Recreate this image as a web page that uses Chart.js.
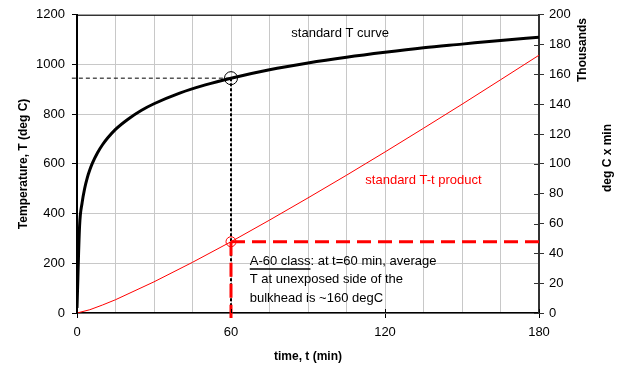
<!DOCTYPE html>
<html>
<head>
<meta charset="utf-8">
<script src="https://cdn.jsdelivr.net/npm/chart.js@4.4.1/dist/chart.umd.min.js"></script>
<style>
  html, body { margin: 0; padding: 0; background: #fff; }
  #wrap { width: 624px; height: 367px; }
</style>
</head>
<body>
<div id="wrap"><canvas id="fireChart" width="624" height="367"></canvas></div>
<script>
// standard T curve (deg C) vs time (min)
const curveTime = [0, 1, 2, 3, 4, 5, 6, 8, 10, 12, 15, 20, 25, 30, 40, 50, 60, 75, 90, 105, 120, 135, 150, 165, 180];
const curveTemp = [20, 349, 444, 502, 544, 576, 603, 645, 678, 705, 739, 781, 815, 842, 885, 918, 945, 979, 1006, 1029, 1049, 1067, 1082, 1097, 1110];

// standard T-t product (thousands of deg C x min)
const productTime = [0, 5, 10, 15, 30, 45, 60, 75, 90, 105, 120, 135, 150, 165, 180];
const productValue = [0, 2.2, 5.4, 8.9, 20.9, 34.0, 47.8, 62.3, 77.2, 92.4, 108.0, 123.9, 140.0, 156.4, 172.9];

// A-60 reading points
const markTime = 60;
const markTemp = 945;
const markProduct = 47.8;

const xTicks = [0, 60, 120, 180];
const FONT = "'Liberation Sans', Arial, sans-serif";

const toPoints = (xs, ys) => xs.map((x, i) => ({ x, y: ys[i] }));

const overlay = {
  id: 'overlay',
  afterDraw(chart) {
    const { ctx, chartArea: a, scales } = chart;
    const x = scales.x, y = scales.y, y1 = scales.y1;
    ctx.save();

    // top frame line
    ctx.strokeStyle = '#000';
    ctx.lineWidth = 1;
    ctx.beginPath();
    ctx.moveTo(a.left, a.top + 0.5);
    ctx.lineTo(a.right, a.top + 0.5);
    ctx.stroke();

    // inner ticks on right axis
    ctx.strokeStyle = '#333';
    ctx.beginPath();
    for (let v = 0; v <= 200; v += 20) {
      const py = Math.round(y1.getPixelForValue(v)) + 0.5;
      ctx.moveTo(a.right - 5, py);
      ctx.lineTo(a.right, py);
    }
    ctx.stroke();

    // inner ticks on x axis
    ctx.strokeStyle = '#000';
    ctx.beginPath();
    xTicks.forEach(v => {
      const px = Math.round(x.getPixelForValue(v)) + 0.5;
      ctx.moveTo(px, a.bottom - 4);
      ctx.lineTo(px, a.bottom);
    });
    ctx.stroke();

    // labels
    ctx.font = '13px ' + FONT;
    ctx.textBaseline = 'middle';
    ctx.textAlign = 'center';
    ctx.fillStyle = '#000';
    ctx.fillText('standard T curve', x.getPixelForValue(102.5), y.getPixelForValue(1124));
    ctx.fillStyle = '#ff0000';
    ctx.fillText('standard T-t product', x.getPixelForValue(135), y1.getPixelForValue(88.7));

    ctx.fillStyle = '#000';
    ctx.textAlign = 'left';
    const tx = x.getPixelForValue(67.3);
    const lines = ['A-60 class: at t=60 min, average', 'T at unexposed side of the', 'bulkhead is ~160 degC'];
    lines.forEach((s, i) => ctx.fillText(s, tx, 261 + i * 18.5));
    const uw = ctx.measureText('A-60 class').width;
    ctx.lineWidth = 1.5;
    ctx.beginPath();
    ctx.moveTo(tx, 269);
    ctx.lineTo(tx + uw, 269);
    ctx.stroke();

    // right axis titles
    ctx.font = 'bold 12px ' + FONT;
    ctx.textAlign = 'center';
    [['Thousands', 583, 50], ['deg C x min', 608, 158]].forEach(([s, cx, cy]) => {
      ctx.save();
      ctx.translate(cx, cy);
      ctx.rotate(-Math.PI / 2);
      ctx.fillText(s, 0, 0);
      ctx.restore();
    });

    ctx.restore();
  }
};

new Chart(document.getElementById('fireChart'), {
  type: 'scatter',
  data: {
    datasets: [
      {
        label: 'mark T',
        data: [{ x: markTime, y: markTemp }],
        yAxisID: 'y',
        pointRadius: 6.5,
        pointBackgroundColor: 'rgba(0,0,0,0)',
        pointBorderColor: '#000',
        pointBorderWidth: 1,
        showLine: false
      },
      {
        label: 'mark product',
        data: [{ x: markTime, y: markProduct }],
        yAxisID: 'y1',
        pointRadius: 5,
        pointBackgroundColor: 'rgba(0,0,0,0)',
        pointBorderColor: '#ff0000',
        pointBorderWidth: 1,
        showLine: false
      },
      {
        label: 'standard T curve',
        data: toPoints(curveTime, curveTemp),
        yAxisID: 'y',
        showLine: true,
        borderColor: '#000',
        borderWidth: 3,
        pointRadius: 0,
        cubicInterpolationMode: 'monotone'
      },
      {
        label: 'standard T-t product',
        data: toPoints(productTime, productValue),
        yAxisID: 'y1',
        showLine: true,
        borderColor: '#ff0000',
        borderWidth: 1,
        pointRadius: 0,
        tension: 0
      },
      {
        label: 'red h',
        data: [{ x: markTime, y: markProduct }, { x: 182, y: markProduct }],
        yAxisID: 'y1',
        showLine: true,
        borderColor: '#ff0000',
        borderWidth: 3,
        borderDash: [14, 7],
        pointRadius: 0,
        clip: false
      },
      {
        label: 'red v',
        data: [{ x: markTime, y: markProduct }, { x: markTime, y: -3.3 }],
        yAxisID: 'y1',
        showLine: true,
        borderColor: '#ff0000',
        borderWidth: 3,
        borderDash: [14, 7],
        pointRadius: 0,
        clip: false
      },
      {
        label: 'black h',
        data: [{ x: -2, y: markTemp }, { x: markTime, y: markTemp }],
        yAxisID: 'y',
        showLine: true,
        borderColor: '#000',
        borderWidth: 1,
        borderDash: [4, 3],
        pointRadius: 0,
        clip: false
      },
      {
        label: 'black v',
        data: [{ x: markTime, y: markTemp }, { x: markTime, y: 0 }],
        yAxisID: 'y',
        showLine: true,
        borderColor: '#000',
        borderWidth: 2,
        borderDash: [3, 2],
        pointRadius: 0
      }
    ]
  },
  options: {
    responsive: false,
    animation: false,
    layout: { padding: { top: 13, left: 0, right: 0, bottom: 0 } },
    plugins: {
      legend: { display: false },
      tooltip: { enabled: false }
    },
    scales: {
      x: {
        type: 'linear',
        min: 0,
        max: 180,
        afterFit: s => { s.height = 54; },
        border: { color: '#000', width: 1.5 },
        grid: {
          color: '#c8c8c8',
          tickLength: 5,
          tickColor: c => (c.tick && c.tick.value % 60 === 0 ? '#000' : 'rgba(0,0,0,0)')
        },
        ticks: {
          stepSize: 15,
          autoSkip: false,
          maxRotation: 0,
          padding: 7,
          color: '#000',
          font: { family: FONT, size: 13 },
          callback: v => (v % 60 === 0 ? String(v) : '')
        },
        title: {
          display: true,
          text: 'time, t (min)',
          color: '#000',
          font: { family: FONT, size: 12, weight: 'bold' },
          padding: { top: 0, bottom: 3 }
        }
      },
      y: {
        position: 'left',
        min: 0,
        max: 1200,
        afterFit: s => { s.width = 77; },
        border: { color: '#000', width: 2 },
        grid: { color: '#c8c8c8', tickLength: 5, tickColor: '#000' },
        ticks: {
          stepSize: 200,
          padding: 7,
          color: '#000',
          font: { family: FONT, size: 13 },
          callback: v => String(v)
        },
        title: {
          display: true,
          text: 'Temperature, T (deg C)',
          color: '#000',
          font: { family: FONT, size: 12, weight: 'bold' },
          padding: { top: 16, bottom: 0 }
        }
      },
      y1: {
        position: 'right',
        min: 0,
        max: 200,
        afterFit: s => { s.width = 85; },
        border: { color: '#333', width: 2 },
        grid: { drawOnChartArea: false, tickLength: 5, tickColor: '#333' },
        ticks: {
          stepSize: 20,
          padding: 5,
          color: '#000',
          font: { family: FONT, size: 13 },
          callback: v => String(v)
        }
      }
    }
  },
  plugins: [overlay]
});
</script>
</body>
</html>
